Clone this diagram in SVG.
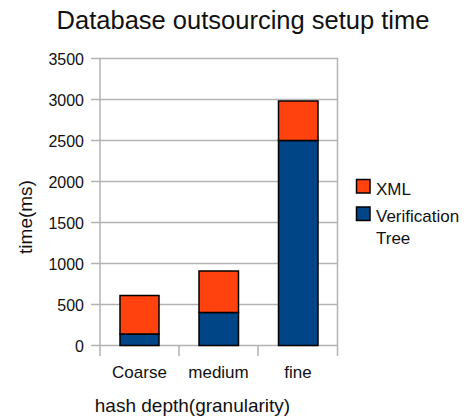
<svg xmlns="http://www.w3.org/2000/svg" width="465" height="417" viewBox="0 0 465 417">
<style>
text{font-family:"Liberation Sans",Arial,sans-serif;fill:#111}
.grid{stroke:#b3b3b3;stroke-width:1.5;fill:none}
.tick{font-size:16px;text-anchor:end}
.cat{font-size:17px;text-anchor:middle}
.xml{fill:#ff420e;stroke:#000;stroke-width:1.5}
.vt{fill:#004586;stroke:#000;stroke-width:1.5}
.leg{font-size:17px}
</style>
<rect width="465" height="417" fill="#fff"/>
<text x="243" y="29" font-size="25.5" text-anchor="middle">Database outsourcing setup time</text>
<g id="grid">
<path class="grid" d="M91 58.5H337.5V345.5M91 99.5H337.5M91 140.5H337.5M91 181.5H337.5M91 222.5H337.5M91 263.5H337.5M91 304.5H337.5M91 345.5H337.5M100 58.5V356M179 345.5V356M258 345.5V356M337.5 345.5V356"/>
</g>
<g id="yticks">
<text class="tick" x="84" y="65">3500</text>
<text class="tick" x="84" y="106">3000</text>
<text class="tick" x="84" y="147">2500</text>
<text class="tick" x="84" y="188">2000</text>
<text class="tick" x="84" y="229">1500</text>
<text class="tick" x="84" y="270">1000</text>
<text class="tick" x="84" y="311">500</text>
<text class="tick" x="84" y="352">0</text>
</g>
<g id="bar-coarse">
<rect class="vt" x="120" y="334" width="39" height="11.5"/>
<rect class="xml" x="120" y="295.5" width="39" height="38.5"/>
</g>
<g id="bar-medium">
<rect class="vt" x="199" y="312.5" width="39.5" height="33"/>
<rect class="xml" x="199" y="271" width="39.5" height="41.5"/>
</g>
<g id="bar-fine">
<rect class="vt" x="278.5" y="140.5" width="39.5" height="205"/>
<rect class="xml" x="278.5" y="101" width="39.5" height="39.5"/>
</g>
<g id="xlabels">
<text class="cat" x="139.5" y="378">Coarse</text>
<text class="cat" x="218.5" y="378">medium</text>
<text class="cat" x="298" y="378">fine</text>
</g>
<text x="192.5" y="411.5" font-size="19" text-anchor="middle">hash depth(granularity)</text>
<text transform="translate(31.5 217) rotate(-90)" font-size="19" text-anchor="middle">time(ms)</text>
<g id="legend">
<rect class="xml" x="356.5" y="179.5" width="13.5" height="13.5"/>
<text class="leg" x="376" y="195" font-size="16">XML</text>
<rect class="vt" x="356.5" y="207" width="13.5" height="13.5"/>
<text class="leg" x="376" y="221.5">Verification</text>
<text class="leg" x="376" y="243.5">Tree</text>
</g>
</svg>
